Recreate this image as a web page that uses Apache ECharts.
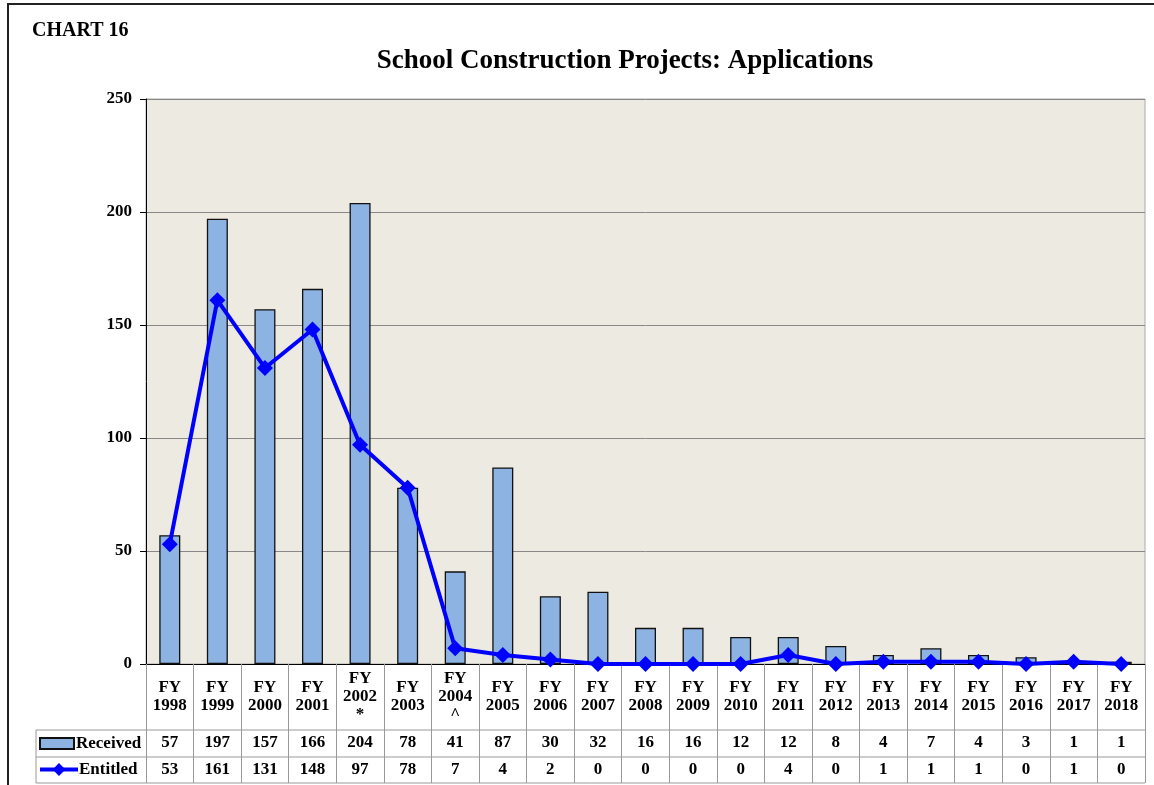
<!DOCTYPE html>
<html><head><meta charset="utf-8">
<script src="https://cdn.jsdelivr.net/npm/echarts@6/dist/echarts.min.js"></script>
<style>html,body{margin:0;padding:0;background:#fff}#c{width:1154px;height:785px}</style>
</head><body><div id="c"></div>
<script>
const categories = ['FY\n1998','FY\n1999','FY\n2000','FY\n2001','FY\n2002\n*','FY\n2003','FY\n2004\n^','FY\n2005','FY\n2006','FY\n2007','FY\n2008','FY\n2009','FY\n2010','FY\n2011','FY\n2012','FY\n2013','FY\n2014','FY\n2015','FY\n2016','FY\n2017','FY\n2018'];
const received = [57,197,157,166,204,78,41,87,30,32,16,16,12,12,8,4,7,4,3,1,1];
const entitled = [53,161,131,148,97,78,7,4,2,0,0,0,0,4,0,1,1,1,0,1,0];
const yTicks = [0,50,100,150,200,250];

const F = 'Liberation Serif, Times New Roman, serif';
const chart = echarts.init(document.getElementById('c'));
const gl = {left:146, right:9, top:99, bottom:121};
const tableLine = {stroke:'#999', lineWidth:1};
const legText = {fontFamily:F,fontSize:17,fontWeight:'bold',color:'#000'};
chart.setOption({
  animation:false,
  textStyle:{fontFamily:F},
  title:[
    {text:'CHART 16', left:27, top:16, textStyle:{fontFamily:F,fontSize:20,fontWeight:'bold',color:'#000'}},
    {text:'School Construction Projects: Applications', left:620, textAlign:'center', top:43, textStyle:{fontFamily:F,fontSize:27,fontWeight:'bold',color:'#000'}}
  ],
  legend:[
    {left:39, top:735, itemWidth:34, itemHeight:11, itemGap:0, padding:0, textStyle:Object.assign({padding:[0,0,0,-3]},legText),
     data:[{name:'Received', icon:'rect'}]},
    {left:38, top:761, itemWidth:38, itemHeight:16, itemGap:0, padding:0, textStyle:Object.assign({padding:[0,0,0,-4]},legText),
     lineStyle:{width:4},
     data:['Entitled']}
  ],
  grid:{left:gl.left, right:gl.right, top:gl.top, bottom:gl.bottom, show:true, backgroundColor:'#EDEAE1', borderColor:'#aaa', borderWidth:1},
  xAxis:[
    {type:'category', data:categories, position:'bottom',
     axisLine:{lineStyle:{color:'#000',width:1}},
     axisTick:{show:true, length:119, lineStyle:{color:'#999'}},
     axisLabel:{interval:0, margin:33, verticalAlign:'middle', lineHeight:18, fontFamily:F, fontSize:17, fontWeight:'bold', color:'#000'}},
    {type:'category', data:received.map(String), position:'bottom',
     axisLine:{show:false}, axisTick:{show:false},
     axisLabel:{interval:0, margin:79, verticalAlign:'middle', fontFamily:F, fontSize:17, fontWeight:'bold', color:'#000'}},
    {type:'category', data:entitled.map(String), position:'bottom',
     axisLine:{show:false}, axisTick:{show:false},
     axisLabel:{interval:0, margin:106, verticalAlign:'middle', fontFamily:F, fontSize:17, fontWeight:'bold', color:'#000'}}
  ],
  yAxis:{type:'value', min:yTicks[0], max:yTicks[yTicks.length-1], interval:50,
    axisLine:{show:true, lineStyle:{color:'#000'}},
    axisTick:{show:true, length:6, lineStyle:{color:'#000'}},
    axisLabel:{margin:14, fontFamily:F, fontSize:17, fontWeight:'bold', color:'#000'},
    splitLine:{lineStyle:{color:'#888'}}},
  series:[
    {name:'Received', type:'bar', data:received, barWidth:21,
     itemStyle:{color:'#8DB3E2', borderColor:'#111', borderWidth:1.3}},
    {name:'Entitled', type:'line', data:entitled, symbol:'diamond', symbolSize:16,
     lineStyle:{color:'#0000FF', width:4}, itemStyle:{color:'#0000FF'}, z:5}
  ],
  graphic:[
    {type:'rect', shape:{x:8,y:4,width:1160,height:800}, style:{fill:'none', stroke:'#222', lineWidth:2}, silent:true},
    {type:'line', shape:{x1:36,y1:730,x2:1145,y2:730}, style:tableLine, silent:true},
    {type:'line', shape:{x1:36,y1:757,x2:1145,y2:757}, style:tableLine, silent:true},
    {type:'line', shape:{x1:36,y1:783,x2:1145,y2:783}, style:tableLine, silent:true},
    {type:'line', shape:{x1:36,y1:730,x2:36,y2:783}, style:tableLine, silent:true}
  ]
});
</script></body></html>
